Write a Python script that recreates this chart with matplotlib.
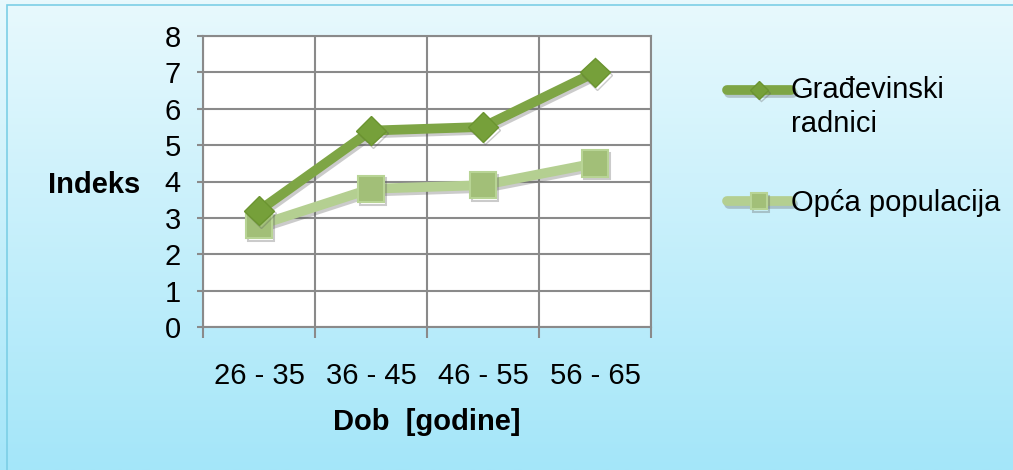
import matplotlib
matplotlib.use('Agg')
import matplotlib.pyplot as plt
import matplotlib.patheffects as pe
import numpy as np
from matplotlib.patches import Rectangle
from matplotlib.transforms import Affine2D

plt.rcParams['font.family'] = ['Liberation Sans', 'DejaVu Sans']

# podaci
kategorije = ['26 - 35', '36 - 45', '46 - 55', '56 - 65']
gradjevinski = [3.2, 5.4, 5.5, 7.0]
opca = [2.8, 3.8, 3.9, 4.5]

fig = plt.figure(figsize=(10.13, 4.70), dpi=100)

# pozadina s gradijentom
bg = fig.add_axes([0, 0, 1, 1], zorder=-10)
grad = np.linspace(0, 1, 256).reshape(-1, 1)
cmap = matplotlib.colors.LinearSegmentedColormap.from_list('bg', ['#e8f9fd', '#a4e6f9'])
bg.imshow(grad, aspect='auto', cmap=cmap, extent=[0, 1, 0, 1], origin='upper')
bg.add_patch(Rectangle((7 / 1013, -0.01), 1.1, 1 - 5 / 470 + 0.01, fill=False,
                       edgecolor='#7ccfe6', linewidth=1.2, transform=bg.transAxes))
bg.set_xlim(0, 1)
bg.set_ylim(0, 1)
bg.axis('off')

ax = fig.add_axes([203 / 1013, 1 - 327 / 470, 448 / 1013, 291 / 470])
ax.set_facecolor('white')

x = np.arange(len(kategorije))
shadow = [pe.SimpleLineShadow(offset=(1.5, -2), shadow_color='#555555', alpha=0.3), pe.Normal()]

ax.plot(x, gradjevinski, color='#7ea545', linewidth=7, marker='D', markersize=15,
        markerfacecolor='#76a03a', markeredgecolor='#6b9430', markeredgewidth=1,
        label='Građevinski\nradnici', zorder=4, path_effects=shadow, solid_capstyle='round')
ax.plot(x, opca, color='#b4cf91', linewidth=7, marker='s', markersize=19,
        markerfacecolor='#a2bf78', markeredgecolor='#b8d495', markeredgewidth=1.5,
        label='Opća populacija', zorder=3, path_effects=shadow, solid_capstyle='round')

ax.set_xlim(-0.5, 3.5)
ax.set_ylim(0, 8)
ax.set_yticks(range(0, 9))
ax.set_xticks(x)
ax.set_xticklabels(kategorije)
ax.set_xticks(np.arange(-0.5, 4, 1), minor=True)

ax.grid(True, which='major', axis='y', color='#8a8a8a', linewidth=1.5)
ax.grid(True, which='minor', axis='x', color='#8a8a8a', linewidth=1.5)
ax.tick_params(axis='x', which='major', length=0, pad=25, labelsize=21)
ax.tick_params(axis='x', which='minor', length=8, width=1.5, color='#8a8a8a')
ax.tick_params(axis='y', length=4, width=1.5, color='#8a8a8a', pad=12, labelsize=21)
for s in ax.spines.values():
    s.set_color('#8a8a8a')
    s.set_linewidth(1.5)
ax.set_axisbelow(True)

fig.text(48 / 1013, 1 - 185 / 470, 'Indeks', fontsize=21, fontweight='bold', va='center', ha='left')
fig.text(427 / 1013, 1 - 422 / 470, 'Dob  [godine]', fontsize=21, fontweight='bold', va='center', ha='center')

leg = ax.legend(loc='upper left', bbox_to_anchor=(715 / 1013, 1 - 64 / 470),
                bbox_transform=fig.transFigure, frameon=False, fontsize=21,
                handlelength=2.2, handletextpad=0.0, labelspacing=1.75, borderaxespad=0,
                markerscale=0.6)
leg.get_texts()[0].set_linespacing(1.3)
# oznaka prve serije poravnata s prvim redom teksta
prva = leg.get_lines()[0]
prva.set_transform(prva.get_transform() + Affine2D().translate(0, 18))

fig.savefig('out.png', dpi=100)
